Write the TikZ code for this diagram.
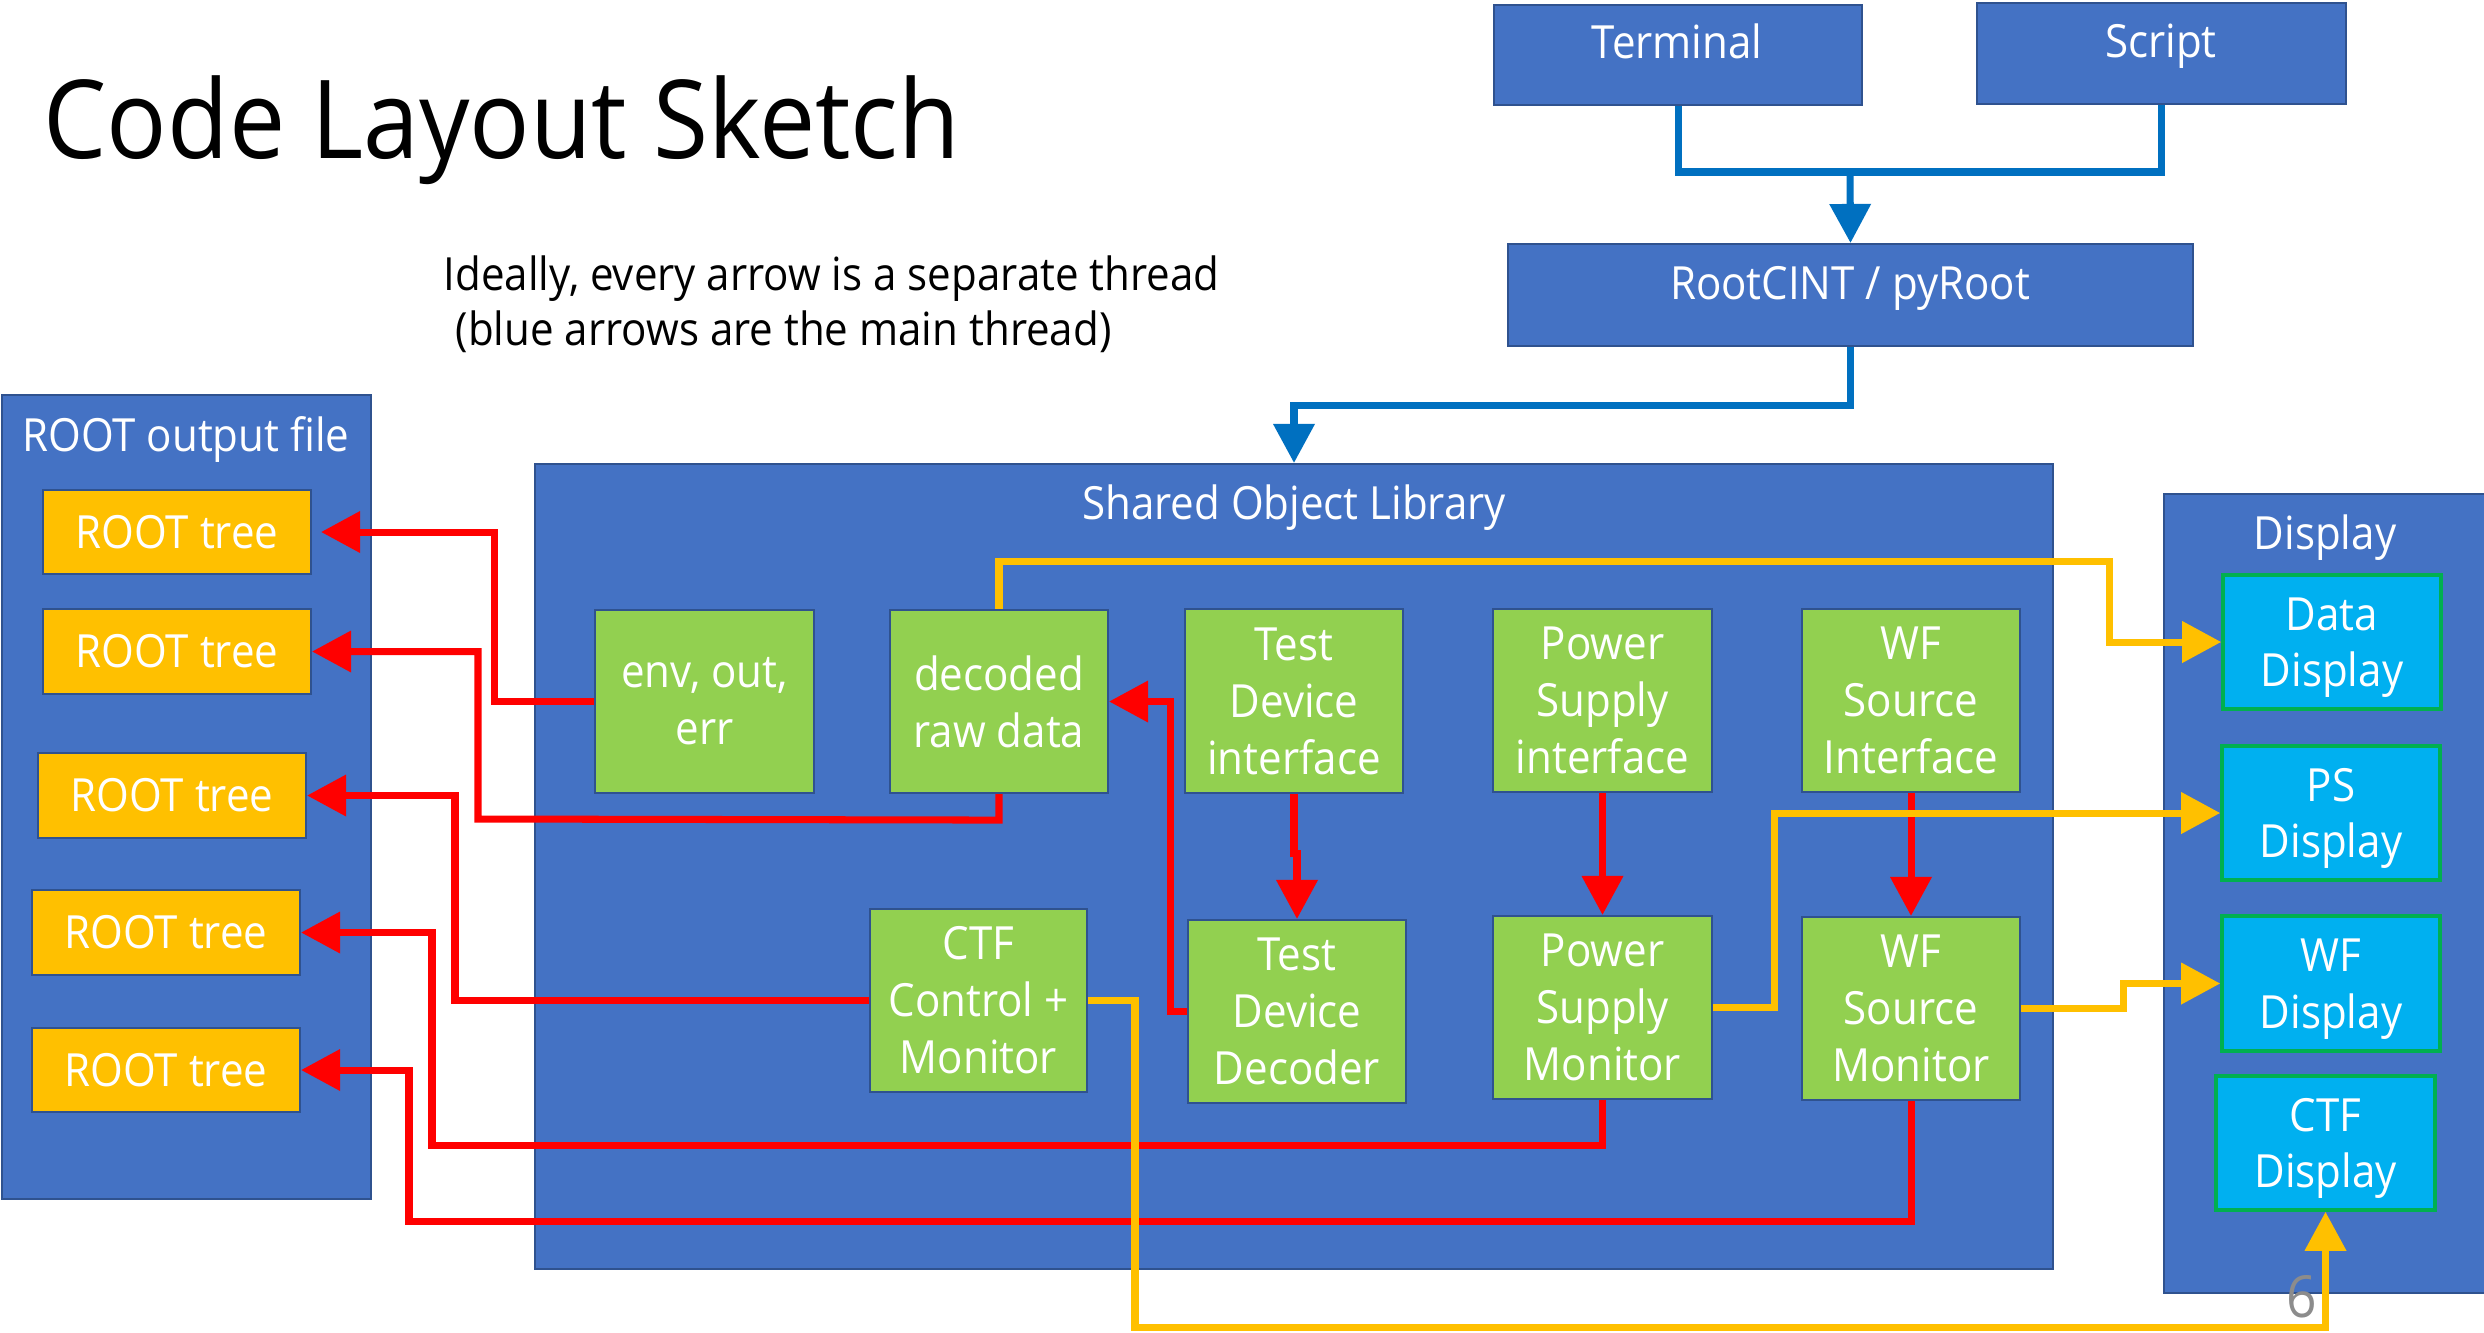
\documentclass[tikz,border=0pt]{standalone}
\usepackage{fontspec}
\setmainfont{Open Sans}[FakeStretch=0.92]
\usetikzlibrary{arrows.meta}

\definecolor{boxblue}{HTML}{4472C4}
\definecolor{edgeblue}{HTML}{2F528F}
\definecolor{leafgreen}{HTML}{92D050}
\definecolor{treegold}{HTML}{FFC000}
\definecolor{dispcyan}{HTML}{00B0F0}
\definecolor{dispedge}{HTML}{00B050}
\definecolor{mainflow}{HTML}{0070C0}
\definecolor{dataflow}{HTML}{FFC000}
\definecolor{writeflow}{HTML}{FF0000}
\definecolor{pagegray}{HTML}{8C8C8C}

% \boxnode{style}{name}{x1}{y1}{x2}{y2}{text}: a box spanning two corners
\newcommand\boxnode[7]{%
  \node[#1, minimum width={(#5-#3)*0.01cm}, minimum height={(#6-#4)*0.01cm}]
    (#2) at ({(#3+#5)/2},{(#4+#6)/2}) {#7};}
% taller first line, which lowers two-line labels a little
\newcommand\toppad{\rule{0pt}{12.5pt}}

\begin{document}
\begin{tikzpicture}[x=0.01cm,y=-0.01cm,
  every node/.style={font=\fontsize{13}{16.2}\selectfont, text=white},
  panel/.style={draw=edgeblue, line width=0.6pt, fill=boxblue, inner sep=0pt},
  module/.style={draw=edgeblue, line width=0.6pt, fill=leafgreen, inner sep=0pt, align=center},
  treebox/.style={draw=edgeblue, line width=0.6pt, fill=treegold, inner sep=0pt},
  viewbox/.style={draw=dispedge, line width=1pt, fill=dispcyan, inner sep=0pt, align=center},
  caption/.style={anchor=base, inner sep=0pt},
  bigtip/.style={-{Triangle[length=0.39cm,width=0.4cm]}},
  mainline/.style={draw=mainflow, line width=2pt},
  writeline/.style={draw=writeflow, line width=2pt},
  dataline/.style={draw=dataflow, line width=2pt}]

\fill[white] (0,0) rectangle (2484,1332);
\useasboundingbox (0,0) rectangle (2484,1332);

% heading and note
\node[anchor=base west, inner sep=0pt, text=black, font=\fontsize{31}{36}\selectfont] (heading) at (43,158) {Code Layout Sketch};
\node[anchor=base west, inner sep=0pt, text=black] (note1) at (443,290) {Ideally, every arrow is a separate thread};
\node[anchor=base west, inner sep=0pt, text=black] (note2) at (455,345) {(blue arrows are the main thread)};

% entry points
\boxnode{panel}{term}{1494}{5}{1862}{105}{}
\node[caption] (termlbl) at (1677,58) {Terminal};
\boxnode{panel}{script}{1977}{3}{2346}{104}{}
\node[caption] (scriptlbl) at (2161,57) {Script};
\boxnode{panel}{rootcint}{1508}{244}{2193}{346}{}
\node[caption] (rootcintlbl) at (1850,299) {RootCINT / pyRoot};

% containers
\boxnode{panel}{shared}{535}{464}{2053}{1269}{}
\node[caption] (sharedlbl) at (1294,519) {Shared Object Library};
\boxnode{panel}{rootfile}{2}{395}{371}{1199}{}
\node[caption] (rootfilelbl) at (186,451) {ROOT output file};
\boxnode{panel}{display}{2164}{494}{2492}{1293}{}
\node[caption] (displbl) at (2325,549) {Display};

% output trees
\boxnode{treebox}{tree1}{43}{490}{311}{574}{ROOT tree}
\boxnode{treebox}{tree2}{43}{609}{311}{694}{ROOT tree}
\boxnode{treebox}{tree3}{38}{753}{306}{838}{ROOT tree}
\boxnode{treebox}{tree4}{32}{890}{300}{975}{ROOT tree}
\boxnode{treebox}{tree5}{32}{1028}{300}{1112}{ROOT tree}

% library modules
\boxnode{module}{env}{595}{610}{814}{793}{env, out,\\err}
\boxnode{module}{decoded}{890}{610}{1108}{793}{decoded\\raw data}
\boxnode{module}{tdi}{1185}{609}{1403}{793}{Test\\Device\\interface}
\boxnode{module}{ctf}{870}{909}{1087}{1092}{CTF\\Control +\\Monitor}
\boxnode{module}{tdd}{1188}{920}{1406}{1103}{Test\\Device\\Decoder}
\boxnode{module}{psi}{1493}{609}{1712}{792}{Power\\Supply\\interface}
\boxnode{module}{wsi}{1802}{609}{2020}{792}{WF\\Source\\Interface}
\boxnode{module}{psm}{1493}{916}{1712}{1099}{Power\\Supply\\Monitor}
\boxnode{module}{wsm}{1802}{917}{2020}{1100}{WF\\Source\\Monitor}

% display panels
\boxnode{viewbox}{datad}{2223}{575}{2441}{709}{\toppad Data\\Display}
\boxnode{viewbox}{psd}{2222}{746}{2440}{880}{\toppad PS\\Display}
\boxnode{viewbox}{wfd}{2222}{916}{2440}{1051}{\toppad WF\\Display}
\boxnode{viewbox}{ctfd}{2216}{1076}{2435}{1210}{\toppad CTF\\Display}

% slide number
\node[text=pagegray, font=\fontsize{16.5}{18}\selectfont, inner sep=0pt] (pagenum) at (2302,1297) {6};

% writer threads (red)
\draw[writeline, bigtip, shorten >=0.09cm] (env.west) -- ++(-99,0) |- (tree1.east);
\draw[writeline, bigtip] (decoded.south) -- ++(0,26) -- (478,819) |- (tree2.east);
\draw[writeline, bigtip] (ctf.west) -- (455,1000.5) |- (tree3.east);
\draw[writeline, bigtip] (psm.south) |- (432,1145) |- (tree4.east);
\draw[writeline, bigtip] (wsm.south) |- (409,1221) |- (tree5.east);
\draw[writeline, bigtip] (tdi.south) -- ++(0,59) -| (tdd.north);
\draw[writeline, bigtip] (tdd.west) -- ++(-16,0) |- (decoded.east);
\draw[writeline, bigtip] (psi.south) -- (psm.north);
\draw[writeline, bigtip] (wsi.south) -- (wsm.north);

% display threads (yellow)
\draw[dataline, bigtip] (decoded.north) |- (2109,561) |- (datad.west);
\draw[dataline, bigtip] (psm.east) -- ++(61,0) |- (psd.west);
\draw[dataline, bigtip] (wsm.east) -- ++(102,0) |- (wfd.west);
\draw[dataline, bigtip] (ctf.east) -| (1135,1327) -| (ctfd.south);

% main thread (blue)
\coordinate (join) at (1850,172);
\draw[mainline] (term.south) |- (join) -| (script.south);
\draw[mainline, bigtip] (join) -- (rootcint.north);
\draw[mainline, bigtip] (rootcint.south) -- ++(0,58) -| (shared.north);
\end{tikzpicture}
\end{document}
